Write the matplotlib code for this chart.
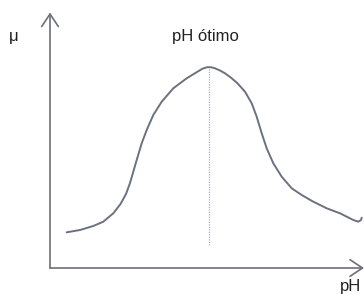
import matplotlib.pyplot as plt

# schematic growth-rate curve (origin at the axes corner)
ph = [16.7, 30, 43.3, 53.3, 63.3, 70.5, 76, 80, 83.5, 86.7, 91.7, 96.7,
      103.3, 111.7, 123.3, 136.7, 148.3, 152.5, 157, 161, 165, 170, 175, 181, 187.5,
      195, 201.7, 206.7, 211.7, 216.7, 223.3, 231.7, 241.7, 251.7, 263.3,
      276.7, 290, 303.3, 308.3, 311, 311.7]
mu = [35.7, 38, 42, 46.3, 54.7, 64, 74, 85, 97, 108, 124.7, 138,
      153, 166.3, 179.7, 189.7, 196.8, 199.3, 200.8, 200.8, 199.7, 197.5, 194.7, 190.3, 184.7,
      176.3, 164.7, 151.3, 134.7, 119.7, 104.7, 91.3, 79.7, 73, 66.3,
      59.7, 54.7, 48, 46.3, 48, 50.3]

ph_opt = 158.5
mu_dot_bottom = 23

title_txt = "pH ótimo"
ylab = "μ"
xlab = "pH"

axis_col = "#6d7079"
curve_col = "#6b717e"

fig = plt.figure(figsize=(3.64, 2.94), dpi=100)
ax = fig.add_axes([0, 0, 1, 1])
ax.set_xlim(-50, 314)
ax.set_ylim(-26, 268)
ax.axis("off")

# axes with open arrow heads
arrow = dict(arrowstyle="->,head_length=0.9,head_width=0.6", color=axis_col, lw=1.2,
             shrinkA=0, shrinkB=0)
ax.annotate("", xy=(0, 255.5), xytext=(0, 0), arrowprops=arrow)
ax.annotate("", xy=(314, 0), xytext=(0, 0), arrowprops=arrow)

ax.plot(ph, mu, color=curve_col, lw=1.4, solid_joinstyle="round", solid_capstyle="round")
ax.plot([ph_opt, ph_opt], [mu_dot_bottom, 200], color="#9fb0c8", lw=0.9,
        linestyle=(0, (1, 1)))

ax.text(155.5, 231, title_txt, ha="center", va="center",
        family="Liberation Sans", fontsize=12, color="#222222")
ax.text(-36, 232, ylab, ha="center", va="center", family="Liberation Sans",
        fontsize=12, color="#222222")
ax.text(301, -19, xlab, ha="center", va="center", family="Liberation Sans",
        fontsize=12, color="#222222")

fig.savefig("out.png", dpi=100)
